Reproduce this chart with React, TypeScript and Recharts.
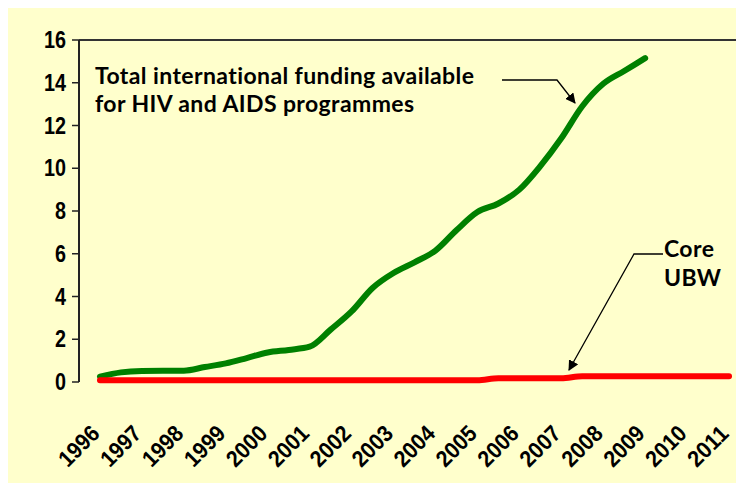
import React from "react";
import { LineChart, Line, XAxis, YAxis, ReferenceLine } from "recharts";

// half-year sample points (US$ billions)
const fundingYears = [
  1996, 1996.5, 1997, 1997.5, 1998, 1998.5, 1999, 1999.5, 2000, 2000.5, 2001,
  2001.5, 2002, 2002.5, 2003, 2003.5, 2004, 2004.5, 2005, 2005.5, 2006, 2006.5,
  2007, 2007.5, 2008, 2008.5, 2009,
];
const fundingValues = [
  0.25, 0.45, 0.52, 0.53, 0.53, 0.7, 0.87, 1.12, 1.38, 1.5, 1.65, 2.45, 3.3,
  4.4, 5.1, 5.6, 6.15, 7.1, 7.95, 8.35, 9.0, 10.1, 11.4, 12.9, 13.95, 14.55,
  15.15,
];

const ubwYears = [
  1996, 1996.5, 1997, 1997.5, 1998, 1998.5, 1999, 1999.5, 2000, 2000.5, 2001,
  2001.5, 2002, 2002.5, 2003, 2003.5, 2004, 2004.5, 2005, 2005.5, 2006, 2006.5,
  2007, 2007.5, 2008, 2008.5, 2009, 2009.5, 2010, 2010.5, 2011,
];
const ubwValues = [
  0.08, 0.08, 0.08, 0.08, 0.08, 0.08, 0.08, 0.08, 0.08, 0.08, 0.08, 0.08, 0.08,
  0.08, 0.08, 0.08, 0.08, 0.08, 0.08, 0.17, 0.17, 0.17, 0.17, 0.27, 0.27, 0.27,
  0.27, 0.27, 0.27, 0.27, 0.27,
];

const yearLabels = [
  1996, 1997, 1998, 1999, 2000, 2001, 2002, 2003, 2004, 2005, 2006, 2007, 2008,
  2009, 2010, 2011,
];
const yearBoundaries = [
  1995.5, 1996.5, 1997.5, 1998.5, 1999.5, 2000.5, 2001.5, 2002.5, 2003.5,
  2004.5, 2005.5, 2006.5, 2007.5, 2008.5, 2009.5, 2010.5, 2011.5,
];
const yTicks = [0, 2, 4, 6, 8, 10, 12, 14, 16];

const fundingData = fundingYears.map((year, i) => ({ year, value: fundingValues[i] }));
const ubwData = ubwYears.map((year, i) => ({ year, value: ubwValues[i] }));

const AXIS_FONT = "'Liberation Sans', Arial, sans-serif";
const NOTE_FONT = "Lato, 'Open Sans', sans-serif";

// narrow bold digits, squeezed like the original's condensed face
const YearTick = (props: any) => {
  const { x, y, payload } = props;
  const tx = x + 1;
  const ty = y + 53;
  return (
    <text
      x={tx}
      y={ty}
      transform={`rotate(-45 ${tx} ${ty})`}
      textAnchor="end"
      fontFamily={AXIS_FONT}
      fontWeight={700}
      fontSize={23}
      fill="#000"
      textLength={47}
      lengthAdjust="spacingAndGlyphs"
    >
      {payload.value}
    </text>
  );
};

const ValueTick = (props: any) => {
  const { x, y, payload } = props;
  const label = String(payload.value);
  return (
    <text
      x={x}
      y={y}
      dy="0.35em"
      textAnchor="end"
      fontFamily={AXIS_FONT}
      fontWeight={700}
      fontSize={23}
      fill="#000"
      textLength={label.length * 11}
      lengthAdjust="spacingAndGlyphs"
    >
      {label}
    </text>
  );
};

export default function App() {
  return (
    <div
      style={{
        position: "relative",
        width: 736,
        height: 475,
        background: "#FFFFCC",
        overflow: "hidden",
      }}
    >
      <LineChart
        width={760}
        height={475}
        margin={{ top: 32, right: 18, left: 0, bottom: 0 }}
      >
        <XAxis
          xAxisId="marks"
          dataKey="year"
          type="number"
          domain={[1995.5, 2011.5]}
          ticks={yearBoundaries}
          tickFormatter={() => ""}
          tickSize={7}
          height={0}
          axisLine={{ stroke: "#222", strokeWidth: 2 }}
          tickLine={{ stroke: "#222", strokeWidth: 1.5 }}
          allowDataOverflow
        />
        <XAxis
          xAxisId="years"
          dataKey="year"
          type="number"
          domain={[1995.5, 2011.5]}
          ticks={yearLabels}
          interval={0}
          tick={<YearTick />}
          tickSize={0}
          tickMargin={0}
          height={101}
          axisLine={false}
          tickLine={false}
          allowDataOverflow
        />
        <YAxis
          type="number"
          domain={[0, 16]}
          ticks={yTicks}
          interval={0}
          width={71}
          tickSize={7}
          tickMargin={6}
          axisLine={{ stroke: "#222", strokeWidth: 2 }}
          tickLine={{ stroke: "#222", strokeWidth: 1.5 }}
          tick={<ValueTick />}
        />
        <ReferenceLine xAxisId="years" y={16} stroke="#333" strokeWidth={2} />
        <Line
          xAxisId="years"
          data={fundingData}
          dataKey="value"
          type="monotone"
          stroke="#008000"
          strokeWidth={6}
          strokeLinecap="round"
          dot={false}
          isAnimationActive={false}
        />
        <Line
          xAxisId="years"
          data={ubwData}
          dataKey="value"
          type="monotone"
          stroke="#FF0000"
          strokeWidth={6}
          strokeLinecap="round"
          dot={false}
          isAnimationActive={false}
        />
      </LineChart>

      <svg
        width={736}
        height={475}
        style={{ position: "absolute", left: 0, top: 0, pointerEvents: "none" }}
      >
        <defs>
          <marker id="arrow" viewBox="0 0 10 10" refX="9" refY="5" markerWidth="8" markerHeight="8" orient="auto-start-reverse">
            <path d="M0,0 L10,5 L0,10 z" fill="#000" />
          </marker>
        </defs>
        <text fontFamily={NOTE_FONT} fontWeight={700} fontSize={23} letterSpacing={0.4} fill="#000">
          <tspan x={87} y={76}>Total international funding available</tspan>
          <tspan x={87} y={104}>for HIV and AIDS programmes</tspan>
        </text>
        <polyline points="494,72 549,72 567,95" fill="none" stroke="#000" strokeWidth={1.3} markerEnd="url(#arrow)" />
        <text fontFamily={NOTE_FONT} fontWeight={700} fontSize={23} letterSpacing={0.4} fill="#000">
          <tspan x={656} y={249}>Core</tspan>
          <tspan x={656} y={278}>UBW</tspan>
        </text>
        <polyline points="655,246 626,246 561,362" fill="none" stroke="#000" strokeWidth={1.3} markerEnd="url(#arrow)" />
      </svg>
    </div>
  );
}
